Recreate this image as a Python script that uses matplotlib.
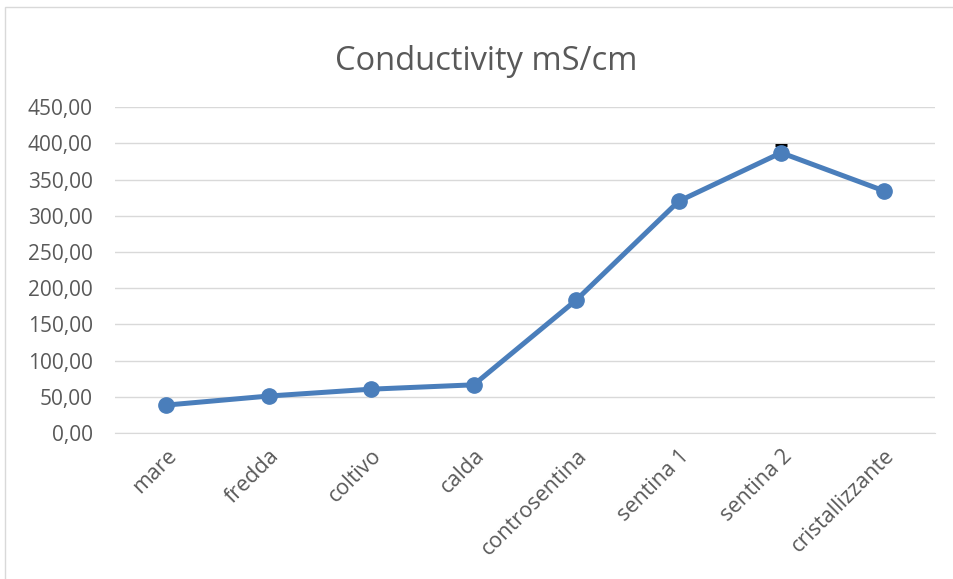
import matplotlib.pyplot as plt
from matplotlib.patches import Rectangle
from matplotlib.ticker import FuncFormatter

categories = ["mare", "fredda", "coltivo", "calda", "controsentina",
              "sentina 1", "sentina 2", "cristallizzante"]
conductivity = [38.5, 51.0, 60.5, 66.5, 183.5, 320.0, 387.0, 334.5]
err_plus = [0, 0, 0, 0, 0, 0, 11.0, 0]

line_color = "#4a7ebb"
text_color = "#595959"

plt.rcParams["font.family"] = ["Open Sans", "DejaVu Sans"]

fig = plt.figure(figsize=(9.54, 5.79), dpi=100)
ax = fig.add_axes([0.1205, 0.2522, 0.8595, 0.5628])

x = list(range(len(categories)))

# plus-only error bars where there is one, drawn under the line
ex = [i for i, e in enumerate(err_plus) if e > 0]
ax.errorbar(ex, [conductivity[i] for i in ex],
            yerr=[[0] * len(ex), [err_plus[i] for i in ex]],
            fmt="none", ecolor="black", elinewidth=1, capsize=4.5,
            capthick=2.2, zorder=2)
ax.plot(x, conductivity, color=line_color, linewidth=3.6,
        marker="o", markersize=11, zorder=3)

ax.set_xlim(-0.5, len(categories) - 0.5)
ax.set_ylim(0, 450)
ax.set_yticks(range(0, 451, 50))
ax.yaxis.set_major_formatter(FuncFormatter(lambda v, p: f"{v:.2f}".replace(".", ",")))
ax.set_xticks(x)
ax.set_xticklabels(categories, rotation=45, ha="right", rotation_mode="anchor")

ax.grid(axis="y", color="#d9d9d9", linewidth=1)
ax.set_axisbelow(True)
for s in ["top", "right", "left"]:
    ax.spines[s].set_visible(False)
ax.spines["bottom"].set_color("#d9d9d9")
ax.tick_params(axis="y", length=0, labelsize=15, colors=text_color, pad=16)
ax.tick_params(axis="x", length=0, labelsize=15.5, colors=text_color, pad=9)

fig.text(486 / 954, 1 - 70 / 579, "Conductivity mS/cm", fontsize=23.5,
         color=text_color, ha="center", va="baseline")

# chart area border, clipped at the right and bottom
fig.patches.append(Rectangle((5 / 954, -0.1), 1.1, 1 - 7 / 579 + 0.1,
                             transform=fig.transFigure, fill=False,
                             edgecolor="#d9d9d9", linewidth=1))

fig.savefig("out.png", dpi=100)
